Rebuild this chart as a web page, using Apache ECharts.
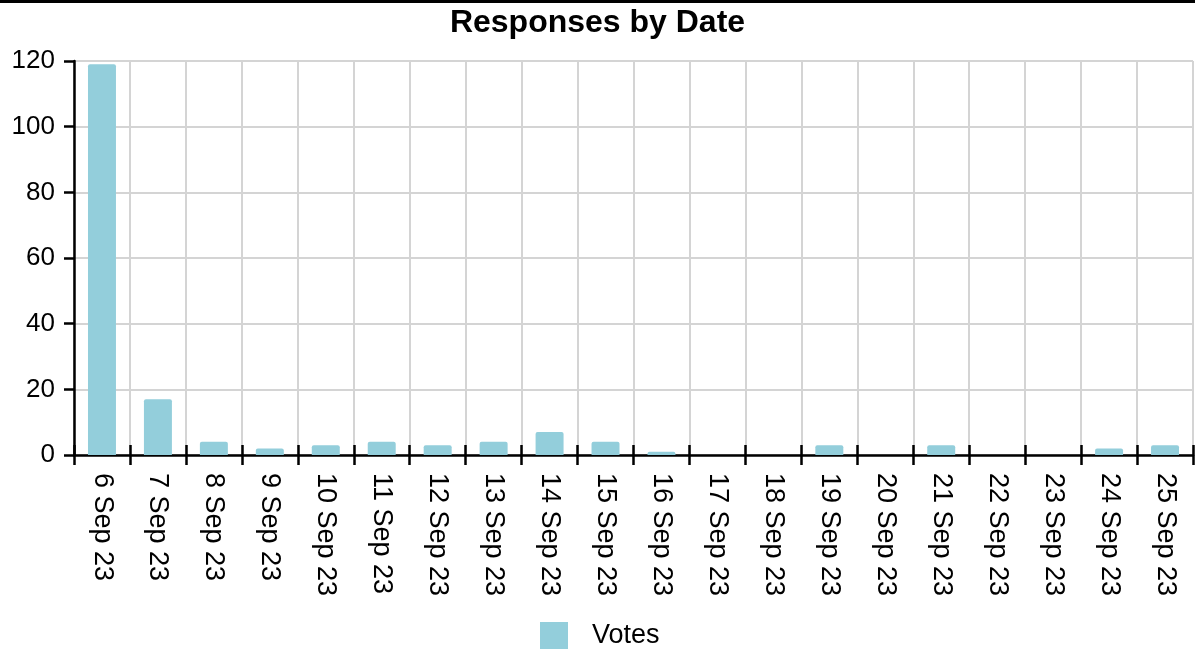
<!DOCTYPE html>
<html>
<head>
<meta charset="utf-8">
<script src="https://cdn.jsdelivr.net/npm/echarts@6/dist/echarts.min.js"></script>
<style>
html,body{margin:0;padding:0;background:#fff;}
#chart{width:1195px;height:657px;}
</style>
</head>
<body>
<div id="chart"></div>
<script>
const categories = ['6 Sep 23','7 Sep 23','8 Sep 23','9 Sep 23','10 Sep 23','11 Sep 23','12 Sep 23','13 Sep 23','14 Sep 23','15 Sep 23','16 Sep 23','17 Sep 23','18 Sep 23','19 Sep 23','20 Sep 23','21 Sep 23','22 Sep 23','23 Sep 23','24 Sep 23','25 Sep 23'];
const votes = [119, 17, 4, 2, 3, 4, 3, 4, 7, 4, 1, 0, 0, 3, 0, 3, 0, 0, 2, 3];
const yTicks = { min: 0, max: 120, interval: 20 };

const FONT = 'Liberation Sans, Arial, sans-serif';
const chart = echarts.init(document.getElementById('chart'));
chart.setOption({
  animation: false,
  backgroundColor: '#ffffff',
  graphic: [{
    type: 'rect', left: 0, top: 0, shape: { width: 1195, height: 3 },
    style: { fill: '#000' }, z: 10
  }],
  title: {
    text: 'Responses by Date',
    left: 'center', top: 2,
    textStyle: { fontFamily: FONT, fontWeight: 'bold', fontSize: 32, color: '#000' }
  },
  legend: {
    data: ['Votes'],
    top: 617, left: 535,
    itemWidth: 28, itemHeight: 27,
    icon: 'rect',
    textStyle: { fontFamily: FONT, fontSize: 27, color: '#000', padding: [0, 0, 0, 19] }
  },
  grid: { left: 74, right: 2, top: 61, bottom: 202, containLabel: false },
  xAxis: [{
    type: 'category',
    data: categories,
    boundaryGap: true,
    axisLine: { show: true, lineStyle: { color: '#000', width: 2.5 } },
    axisTick: { show: true, alignWithLabel: false, inside: false, length: 10, lineStyle: { color: '#000', width: 2.5 } },
    axisLabel: { rotate: -90, margin: 18, fontFamily: FONT, fontSize: 27, color: '#000', interval: 0 },
    splitLine: { show: true, interval: 0, lineStyle: { color: '#d4d4d4', width: 2 } }
  }, {
    type: 'category',
    data: categories,
    position: 'bottom',
    boundaryGap: true,
    axisLine: { show: false },
    axisTick: { show: true, inside: true, length: 10, interval: 0, lineStyle: { color: '#000', width: 2.5 } },
    axisLabel: { show: false },
    splitLine: { show: false }
  }],
  yAxis: {
    type: 'value',
    min: yTicks.min, max: yTicks.max, interval: yTicks.interval,
    axisLine: { show: true, lineStyle: { color: '#000', width: 2.5 } },
    axisTick: { show: true, length: 10, lineStyle: { color: '#000', width: 2.5 } },
    axisLabel: { margin: 19, fontFamily: FONT, fontSize: 26, color: '#000' },
    splitLine: { show: true, lineStyle: { color: '#d4d4d4', width: 2 } }
  },
  series: [{
    name: 'Votes',
    type: 'bar',
    data: votes,
    barWidth: '50%',
    itemStyle: { color: '#93cedb', borderRadius: [2, 2, 0, 0] },
    z: 2
  }]
});
</script>
</body>
</html>
